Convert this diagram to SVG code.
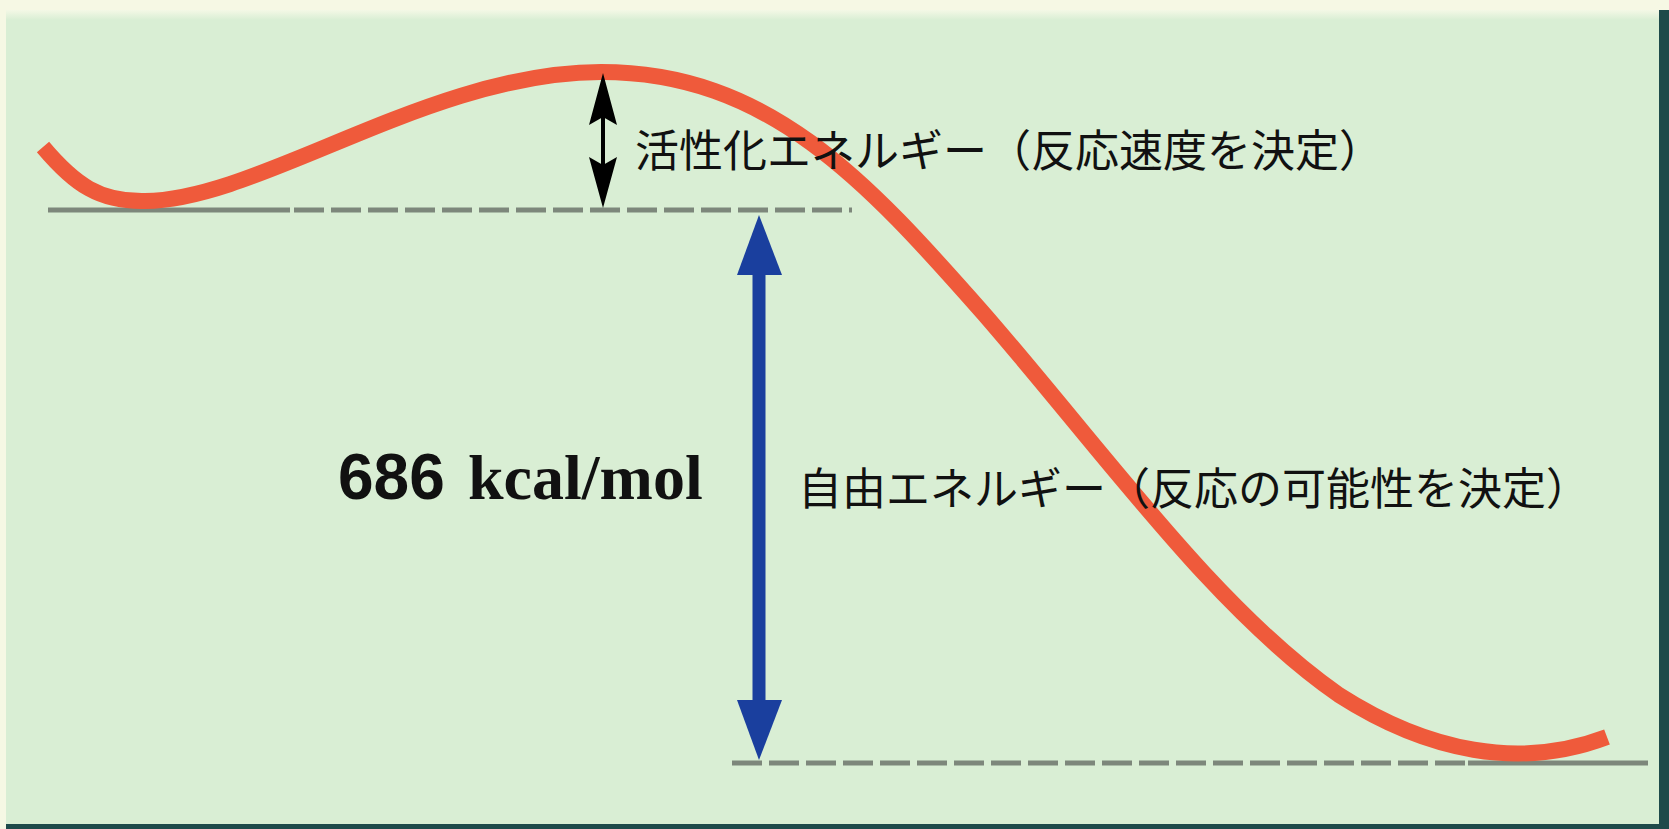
<svg xmlns="http://www.w3.org/2000/svg" width="1669" height="829" viewBox="0 0 1669 829">
<defs>
<style>
.lvl{stroke:#7d877b;stroke-width:5;fill:none}
.dash{stroke-dasharray:30 7}
.jp{font-family:"Noto Sans CJK JP","Noto Sans CJK SC",sans-serif;font-size:44px;fill:#111}
</style>
<linearGradient id="topfade" x1="0" y1="0" x2="0" y2="1">
<stop offset="0" stop-color="#f4f8e6"/>
<stop offset="1" stop-color="#d9eed4"/>
</linearGradient>
</defs>
<rect width="1669" height="829" fill="#f6f8e4"/>
<rect x="6" y="10" width="1654" height="815" fill="#d9eed4"/>
<rect x="6" y="10" width="1654" height="10" fill="url(#topfade)"/>
<rect x="1659" y="10" width="10" height="819" fill="#1e4a4a"/>
<rect x="6" y="824" width="1663" height="5" fill="#1e4a4a"/>
<g id="levels">
<line class="lvl" x1="48" y1="210" x2="290" y2="210"/>
<line class="lvl dash" x1="294" y1="210" x2="852" y2="210"/>
<line class="lvl dash" x1="732" y1="763" x2="1466" y2="763"/>
<line class="lvl" x1="1468" y1="763" x2="1648" y2="763"/>
</g>
<g id="curve">
<path d="M43,147 C75,185 100,202 145,201 C260,200 430,72 601,72 C768,72 866,180 984,314 C1104,452 1214,608 1339,695 C1428,752 1520,770 1607,737" fill="none" stroke="#ef5a3b" stroke-width="16" stroke-linecap="butt"/>
</g>
<g id="connectors">
<g id="activation-arrow">
<line x1="603" y1="110" x2="603" y2="175" stroke="#000" stroke-width="4"/>
<path d="M603,73 L617,125 L603,117 L589,125 Z" fill="#000"/>
<path d="M603,208 L617,157 L603,165 L589,157 Z" fill="#000"/>
</g>
<g id="free-energy-arrow">
<line x1="759" y1="265" x2="759" y2="710" stroke="#1a3f9e" stroke-width="13"/>
<path d="M759,215 L782,275 L737,275 Z" fill="#1a3f9e"/>
<path d="M759,760 L782,700 L737,700 Z" fill="#1a3f9e"/>
</g>
</g>
<g id="label-activation">
<text class="jp" x="635" y="167">活性化エネルギー（反応速度を決定）</text>
</g>
<g id="label-free">
<text class="jp" x="798" y="505">自由エネルギー（反応の可能性を決定）</text>
</g>
<g id="label-value">
<text x="338" y="499" font-family="Liberation Sans, Arial, sans-serif" font-weight="bold" font-size="64" fill="#111">686</text>
<text x="468" y="499" font-family="Liberation Serif, Times New Roman, serif" font-weight="bold" font-size="64" fill="#111">kcal/mol</text>
</g>
</svg>
